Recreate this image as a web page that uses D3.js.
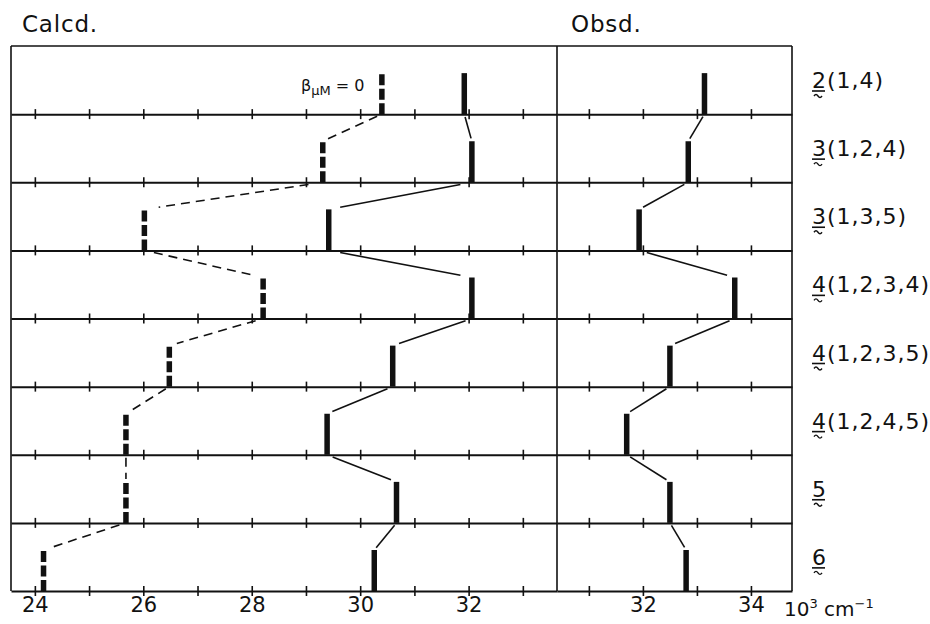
<!DOCTYPE html>
<html>
<head>
<meta charset="utf-8">
<script src="https://cdn.jsdelivr.net/npm/d3@7"></script>
<style>
  body { margin: 0; background: #fff; }
  text { font-family: "DejaVu Sans", sans-serif; fill: #111; }
</style>
</head>
<body>
<script>
const width = 930;
const height = 624;

// complexes (row labels): underlined digit + site list
const rowNumbers = ["2", "3", "3", "4", "4", "4", "5", "6"];
const rowSites = ["(1,4)", "(1,2,4)", "(1,3,5)", "(1,2,3,4)", "(1,2,3,5)", "(1,2,4,5)", "", ""];

// band positions, 10^3 cm-1
const calcd = [31.92, 32.06, 29.42, 32.06, 30.6, 29.39, 30.67, 30.26];
const betaZero = [30.4, 29.31, 26.02, 28.21, 26.48, 25.68, 25.68, 24.16];
const obsd = [33.14, 32.84, 31.93, 33.7, 32.5, 31.7, 32.5, 32.8];

const leftTicks = [24, 25, 26, 27, 28, 29, 30, 31, 32, 33];
const leftLabels = [24, 26, 28, 30, 32];
const rightTicks = [31, 32, 33, 34];
const rightLabels = [32, 34];

let svg = d3
  .select("body")
  .append("svg")
  .attr("width", width)
  .attr("height", height);

let xLeft = d3.scaleLinear().domain([23.56, 33.63]).range([11, 557]);
let xRight = d3.scaleLinear().domain([30.41, 34.76]).range([557, 792]);

let yScale = d3
  .scaleBand()
  .domain(d3.range(rowNumbers.length))
  .range([46, 591])
  .padding(0);

const barH = 41;
let base = (i) => yScale(i) + yScale.bandwidth();

// frame
svg.append("line")
  .attr("x1", 11).attr("x2", 792).attr("y1", 46).attr("y2", 46)
  .attr("stroke", "#111").attr("stroke-width", 1.6);
[11, 557, 792].forEach((x) => {
  svg.append("line")
    .attr("x1", x).attr("x2", x).attr("y1", 46).attr("y2", 591)
    .attr("stroke", "#111").attr("stroke-width", 1.6);
});

// baselines with crossing ticks
function drawAxis(scale, ticks, labels, i, last) {
  let axis = d3
    .axisBottom(scale)
    .tickValues(ticks)
    .tickSize(10)
    .tickSizeOuter(0)
    .tickFormat((d) => (last && labels.includes(d) ? d : ""));
  let g = svg
    .append("g")
    .attr("transform", `translate(0, ${base(i)})`)
    .call(axis);
  g.select(".domain").attr("stroke", "#111").attr("stroke-width", 2);
  g.selectAll(".tick line")
    .attr("y1", -5)
    .attr("y2", 5)
    .attr("stroke", "#111")
    .attr("stroke-width", 1.6);
  g.selectAll(".tick text")
    .attr("y", 21)
    .attr("dy", 0)
    .attr("font-size", 21)
    .attr("font-family", "DejaVu Sans, sans-serif")
    .attr("fill", "#111");
}

rowNumbers.forEach((d, i) => {
  let last = i === rowNumbers.length - 1;
  drawAxis(xLeft, leftTicks, leftLabels, i, last);
  drawAxis(xRight, rightTicks, rightLabels, i, last);
});

// connecting lines between consecutive rows
function connectors(values, scale, dashed) {
  let segs = d3.range(values.length - 1).map((i) => {
    let x1 = scale(values[i]), y1 = base(i);
    let x2 = scale(values[i + 1]), y2 = base(i + 1) - barH;
    let len = Math.hypot(x2 - x1, y2 - y1);
    let cut = Math.max(3, len * 0.08) / len;
    return {
      x1: x1 + (x2 - x1) * cut, y1: y1 + (y2 - y1) * cut,
      x2: x2 - (x2 - x1) * cut, y2: y2 - (y2 - y1) * cut,
    };
  });
  svg.append("g")
    .selectAll("line")
    .data(segs)
    .join("line")
    .attr("x1", (d) => d.x1).attr("y1", (d) => d.y1)
    .attr("x2", (d) => d.x2).attr("y2", (d) => d.y2)
    .attr("stroke", "#111")
    .attr("stroke-width", 1.6)
    .attr("stroke-dasharray", dashed ? "9,6" : null);
}

connectors(betaZero, xLeft, true);
connectors(calcd, xLeft, false);
connectors(obsd, xRight, false);

// bars
function bars(values, scale, dashed) {
  svg.append("g")
    .selectAll("line")
    .data(values)
    .join("line")
    .attr("x1", (d) => scale(d)).attr("x2", (d) => scale(d))
    .attr("y1", (d, i) => base(i))
    .attr("y2", (d, i) => base(i) - barH)
    .attr("stroke", "#111")
    .attr("stroke-width", 5.5)
    .attr("stroke-dasharray", dashed ? "11,3.5" : null);
}

bars(betaZero, xLeft, true);
bars(calcd, xLeft, false);
bars(obsd, xRight, false);

// beta label
let beta = svg.append("text")
  .attr("x", 301)
  .attr("y", 91)
  .attr("font-size", 16);
beta.append("tspan").text("β");
beta.append("tspan").attr("dy", 4).attr("font-size", 13).text("μM");
beta.append("tspan").attr("dy", -4).text(" = 0");

// titles
svg.append("text").attr("x", 22).attr("y", 32).attr("font-size", 23).attr("letter-spacing", 0.8).text("Calcd.");
svg.append("text").attr("x", 571).attr("y", 32).attr("font-size", 23).attr("letter-spacing", 0.8).text("Obsd.");

// row labels
rowNumbers.forEach((d, i) => {
  let y = yScale(i) + 42;
  let t = svg.append("text")
    .attr("x", 812)
    .attr("y", y)
    .attr("font-size", 22)
    .attr("letter-spacing", 1);
  t.append("tspan").text(d);
  t.append("tspan").text(rowSites[i]);
  let w = 13;
  svg.append("line")
    .attr("x1", 812).attr("x2", 812 + w)
    .attr("y1", y + 3).attr("y2", y + 3)
    .attr("stroke", "#111").attr("stroke-width", 1.6);
  svg.append("path")
    .attr("d", `M${814},${y + 8} q2,-3 4,0 t4,0`)
    .attr("fill", "none")
    .attr("stroke", "#111")
    .attr("stroke-width", 1.4);
});

// unit label
let unit = svg.append("text").attr("x", 784).attr("y", 616).attr("font-size", 20);
unit.append("tspan").text("10");
unit.append("tspan").attr("dy", -8).attr("font-size", 13).text("3");
unit.append("tspan").attr("dy", 8).text(" cm");
unit.append("tspan").attr("dy", -8).attr("font-size", 13).text("−1");
</script>
</body>
</html>
